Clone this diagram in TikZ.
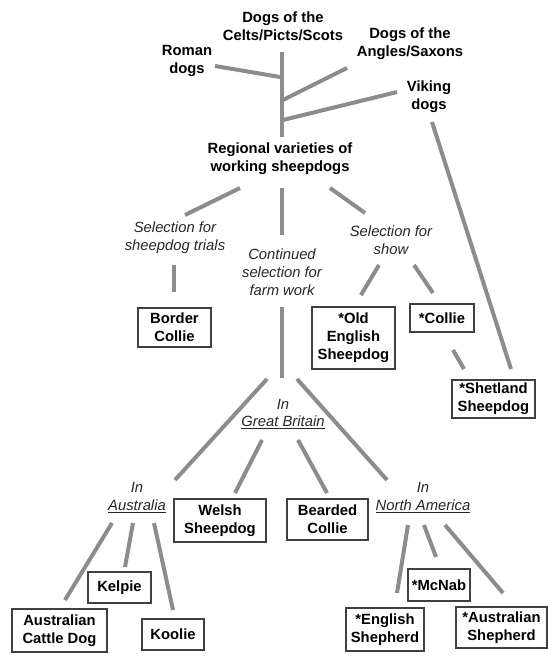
\documentclass[tikz,border=0pt]{standalone}
\usepackage{fontspec}
\setmainfont{Liberation Sans}
\begin{document}
\begin{tikzpicture}[x=1pt,y=-1pt,
  lbl/.style={font=\fontsize{14.8}{17.8}\selectfont\bfseries, align=center, inner sep=0pt},
  itl/.style={font=\fontsize{14.8}{17.8}\selectfont\itshape, align=center, inner sep=0pt, text=black!85},
  bx/.style={draw=black!75, line width=1.3pt, font=\fontsize{14.8}{17.8}\selectfont\bfseries, align=center, inner sep=0pt},
  ln/.style={draw=black!45, line width=4pt}]
\useasboundingbox (0,0) rectangle (548,656);
% labels
\node[lbl] (celts) at (283,26) {Dogs of the\\Celts/Picts/Scots};
\node[lbl] (roman) at (187,61) {Roman\\dogs};
\node[lbl] (angles) at (410,44) {Dogs of the\\Angles/Saxons};
\node[lbl] (viking) at (429,97) {Viking\\dogs};
\node[lbl] (regional) at (280,158.5) {Regional varieties of\\working sheepdogs};
\node[itl] (trials) at (175,237.5) {Selection for\\sheepdog trials};
\node[itl] (cont) at (282,272.5) {Continued\\selection for\\farm work};
\node[itl] (show) at (391,240) {Selection for\\show};
\node[itl] (gb) at (283,414) {In\\\underline{Great Britain}};
\node[itl] (aus) at (137,497.5) {In\\\underline{Australia}};
\node[itl] (na) at (423,497.5) {In\\\underline{North America}};
% boxes
\node[bx, minimum width=73, minimum height=39] (bc) at (174.5,327.5) {Border\\Collie};
\node[bx, minimum width=83, minimum height=62] (oes) at (353.5,338) {*Old\\English\\Sheepdog};
\node[bx, minimum width=64, minimum height=28] (collie) at (442,318) {*Collie};
\node[bx, minimum width=83, minimum height=38] (shet) at (493.5,399) {*Shetland\\Sheepdog};
\node[bx, minimum width=92, minimum height=43] (welsh) at (220,520.5) {Welsh\\Sheepdog};
\node[bx, minimum width=81, minimum height=41] (bearded) at (327.5,519.5) {Bearded\\Collie};
\node[bx, minimum width=63, minimum height=31] (kelpie) at (119.5,587.5) {Kelpie};
\node[bx, minimum width=95, minimum height=43] (cattle) at (59.5,630.5) {Australian\\Cattle Dog};
\node[bx, minimum width=62, minimum height=31] (koolie) at (173,634.5) {Koolie};
\node[bx, minimum width=62, minimum height=32] (mcnab) at (439,585) {*McNab};
\node[bx, minimum width=78, minimum height=43] (eshep) at (385,629.5) {*English\\Shepherd};
\node[bx, minimum width=91, minimum height=41] (ashep) at (501.5,627.5) {*Australian\\Shepherd};
% connector end points
\coordinate (r1) at (215,66);   \coordinate (r2) at (280,77);
\coordinate (v1) at (282,52);   \coordinate (v2) at (282,137);
\coordinate (a1) at (347,68);   \coordinate (a2) at (283,100);
\coordinate (k1) at (397,92);   \coordinate (k2) at (283,120);
\coordinate (t1) at (240,188);  \coordinate (t2) at (185,215);
\coordinate (c1) at (282,188);  \coordinate (c2) at (282,235);
\coordinate (s1) at (330,188);  \coordinate (s2) at (365,213);
\coordinate (b1) at (174,265);  \coordinate (b2) at (174,292);
\coordinate (o1) at (379,265);  \coordinate (o2) at (361,295);
\coordinate (l1) at (414,265);  \coordinate (l2) at (433,293);
\coordinate (h1) at (453,350);  \coordinate (h2) at (464,369);
\coordinate (x1) at (432,122);  \coordinate (x2) at (511,369);
\coordinate (f1) at (282,307);  \coordinate (f2) at (282,378);
\coordinate (au1) at (267,379); \coordinate (au2) at (175,480);
\coordinate (n1) at (297,379);  \coordinate (n2) at (387,480);
\coordinate (w1) at (262,440);  \coordinate (w2) at (235,493);
\coordinate (bd1) at (298,440); \coordinate (bd2) at (327,493);
\coordinate (ct1) at (112,523); \coordinate (ct2) at (65,600);
\coordinate (kp1) at (133,523); \coordinate (kp2) at (125,567);
\coordinate (ko1) at (154,523); \coordinate (ko2) at (173,610);
\coordinate (es1) at (408,525); \coordinate (es2) at (397,593);
\coordinate (mc1) at (424,525); \coordinate (mc2) at (436,557);
\coordinate (as1) at (445,525); \coordinate (as2) at (503,593);
% connectors
\foreach \p/\q in {r1/r2,v1/v2,a1/a2,k1/k2,t1/t2,c1/c2,s1/s2,b1/b2,o1/o2,l1/l2,h1/h2,x1/x2,f1/f2,au1/au2,n1/n2,w1/w2,bd1/bd2,ct1/ct2,kp1/kp2,ko1/ko2,es1/es2,mc1/mc2,as1/as2}
  \draw[ln] (\p) -- (\q);
\end{tikzpicture}
\end{document}
